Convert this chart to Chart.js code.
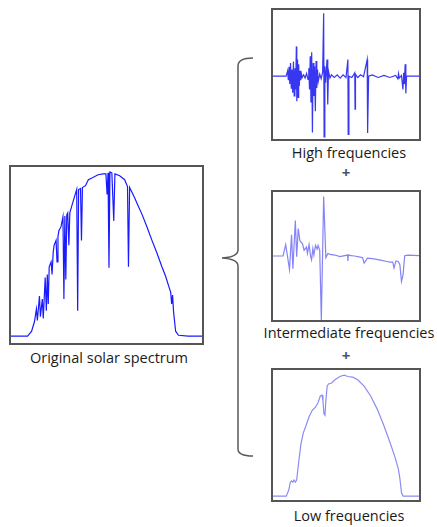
<!DOCTYPE html>
<html lang="en">
<head>
    <meta charset="UTF-8">
    <title>Solar spectrum decomposition</title>
    <script src="https://cdn.jsdelivr.net/npm/chart.js"></script>
    <style>
        body {
            margin: 0;
            width: 437px;
            height: 527px;
            background: #fff;
            position: relative;
            overflow: hidden;
            font-family: 'Open Sans', sans-serif;
        }

        .box {
            position: absolute;
            border: 2px solid #555;
            box-sizing: border-box;
            background: #fff;
        }

        .box canvas {
            display: block;
        }

        .label {
            position: absolute;
            font-size: 14.5px;
            line-height: 14.5px;
            color: #1a1a1a;
            white-space: nowrap;
            transform: translateX(-50%);
        }

        .plus {
            position: absolute;
            font-size: 15px;
            line-height: 15px;
            font-weight: bold;
            color: #44546a;
            transform: translateX(-50%);
        }

        #brace {
            position: absolute;
            left: 0;
            top: 0;
        }
    </style>
</head>
<body>
    <svg id="brace" width="437" height="527">
        <path d="M253,58 Q238,58 238,66 L238,250 Q238,257 222,258 Q238,259 238,266 L238,449 Q238,456 253,456"
              fill="none" stroke="#5a5a5a" stroke-width="1.5"/>
    </svg>

    <div class="box" style="left:9px; top:165px; width:195px; height:180px;"><canvas id="origChart"></canvas></div>
    <div class="box" style="left:271px; top:8px; width:150px; height:133px;"><canvas id="highChart"></canvas></div>
    <div class="box" style="left:271px; top:190px; width:150px; height:132px;"><canvas id="midChart"></canvas></div>
    <div class="box" style="left:271px; top:368px; width:150px; height:134px;"><canvas id="lowChart"></canvas></div>

    <div class="label" style="left:109px; top:351px;">Original solar spectrum</div>
    <div class="label" style="left:349px; top:146px;">High frequencies</div>
    <div class="plus" style="left:346px; top:165px;">+</div>
    <div class="label" style="left:349px; top:326px;">Intermediate frequencies</div>
    <div class="plus" style="left:346px; top:348px;">+</div>
    <div class="label" style="left:349px; top:509px;">Low frequencies</div>

    <script>
        // original spectrum (x: position across the band 0-100, y: intensity 0-100)
        const origX = [0, 8.7, 10.8, 12.3, 13.3, 13.8, 14.9, 15.4, 16.4, 16.9, 17.9, 18.5, 19, 19.5, 20, 21, 21.5, 22.1, 22.6,
            23.6, 24.1, 24.6, 25.1, 26.2, 27.2, 27.7, 28.2, 28.7, 29.2, 29.7, 30.3, 30.8, 31.8, 33.3, 34.4, 34.9, 35.4,
            36.4, 36.9, 37.4, 39, 40.5, 42.6, 45.6, 48.2, 49.7, 50.3, 50.8, 51.3, 51.8, 52.8, 53.8, 54.4, 56.9, 59.5,
            61, 61.5, 62.1, 64.6, 66.2, 68.7, 71.3, 73.8, 76.4, 79, 81, 82.6, 83.6, 84.1, 84.6, 85.1, 85.6, 86.2, 87.7,
            92.8, 100];
        const origY = [3.9, 3.9, 6.7, 12.2, 19.4, 12.8, 26.7, 15, 25, 13.9, 37.2, 18.3, 38.9, 22.2, 43.3, 46.1, 38.9, 51.7, 55.6,
            58.3, 46.1, 60.6, 63.9, 66.1, 71.7, 25, 72.2, 36.1, 72.8, 73.9, 55.6, 73.9, 77.8, 83.3, 87.2, 18.3, 87.2,
            87.8, 58.3, 88.3, 89.4, 92.8, 93.9, 95.6, 96.1, 96.1, 84.4, 96.7, 42.8, 97.2, 96.7, 69.4, 96.1, 95, 92.8,
            88.9, 43.3, 88.3, 82.8, 78.9, 72.8, 65.6, 58.3, 51.1, 43.3, 37.8, 32.2, 28.9, 22.2, 27.2, 17.8, 12.8, 6.7, 4.4,
            3.9, 3.9];

        // high frequency component
        const highX = [0, 9, 10, 10.5, 11, 11.5, 12, 12.5, 13, 13.5, 14, 14.5, 15, 15.5, 16, 16.3, 16.8, 17.2, 17.6, 18, 18.5,
            19, 19.5, 20, 21, 22, 23, 24, 24.5, 25, 25.5, 26, 26.5, 27, 27.5, 28, 28.5, 29, 29.5, 30, 30.5, 31, 32, 33,
            34, 34.7, 35, 35.5, 36, 37, 37.5, 38, 39, 40, 42, 44, 46, 48, 50, 51.3, 51.5, 52, 54, 56, 56.2, 56.5, 58,
            60, 62, 64.5, 64.8, 65.5, 68, 72, 76, 80, 84, 85.5, 86, 86.5, 88, 89, 89.5, 90, 90.5, 91, 91.5, 93, 100];
        const highY = [0, 0, 8, -6, 14, -12, 20, -18, 10, -25, 22, -30, 12, -20, 45, -38, 25, -32, 18, -15, 8,
            -6, 3, -2, 2, -3, 4, -5, 12, -20, 30, -40, 36, -85, 20, -30, 15, -53, 23, -18, 10, -8, 3, -4,
            6, 95, -92, 15, -10, 25, -43, 8, -3, 2, -2, 2, -3, 2, -2, 25, -88, 0, -2, 5, -50, 3, -2,
            2, -1, 25, -86, 0, 2, -2, 1, -2, 1, -4, 4, -3, 1, -20, 5, -12, 18, -26, 0, 0, 0];

        // intermediate frequency component
        const midX = [0, 6.9, 8.7, 11.3, 12.7, 13.6, 15.3, 16.2, 17.3, 18.4, 20.2, 21.3, 22.9, 23.6, 24.7, 25.8, 26.4, 27.3,
            28, 29.1, 30.2, 30.9, 32, 33.1, 34.7, 36.2, 37.6, 39.1, 42.4, 45.8, 51.1, 51.3, 51.6, 53.6, 55.8, 61.3, 62.4,
            64.7, 69.1, 73.6, 78, 80.2, 82, 82.9, 84.2, 85.8, 86.9, 88, 89.1, 90.2, 92.4, 100];
        const midY = [0, 0, 17.7, -21, 33, -20, 55.6, -1, 43, 24, 19, 9, 14, 4, 17.7, -1, -6, 11.6, 1.5, 16.7, 10.6,
            16.7, 9, -100, 93, -2.5, 4, 2.5, 1.5, -1, 1.5, -7.6, 1.5, 0.5, 0, -2.5, -11, -3.5, -4.5, -6.5, -8.6, -9.6,
            -9.6, -18.7, -7.6, -8.6, -13.6, -40, -29, 0.5, 1.5, 0.5];

        // low frequency component
        const lowX = [0, 9.1, 10.9, 11.8, 12.7, 13.6, 14.4, 15.3, 16.2, 17.6, 19.1, 20.7, 22.4, 24.7, 26.9, 29.1, 30.9, 32.4,
            33.6, 34.2, 34.9, 35.6, 36.2, 37.1, 38, 40.2, 42.4, 45.8, 48.7, 51.3, 54.7, 58, 62.4, 66.9, 71.3, 75.8,
            80.2, 83.6, 85.8, 86.9, 88, 89.1, 100];
        const lowY = [3, 3, 8, 13.7, 14.7, 13.7, 15.4, 13.7, 15.4, 29, 42.8, 51.5, 56.5, 64, 69, 71.4, 75, 80,
            80.6, 76.4, 66.4, 65.2, 76.4, 87.6, 89.3, 90, 92.5, 95, 96, 95, 94.5, 92.5, 87.6, 80, 70.1, 57.7,
            44, 32.8, 24.1, 16.7, 5.5, 3, 3];

        function toPoints(xs, ys) {
            return xs.map((x, i) => ({ x: x, y: ys[i] }));
        }

        function drawPanel(id, xs, ys, yMin, yMax, color, width) {
            const canvas = document.getElementById(id);
            const box = canvas.parentElement;
            canvas.width = box.clientWidth;
            canvas.height = box.clientHeight;
            return new Chart(canvas.getContext('2d'), {
                type: 'line',
                data: {
                    datasets: [{
                        data: toPoints(xs, ys),
                        borderColor: color,
                        borderWidth: width,
                        pointRadius: 0,
                        tension: 0,
                        fill: false
                    }]
                },
                options: {
                    responsive: false,
                    animation: false,
                    layout: { padding: 0 },
                    plugins: { legend: { display: false }, tooltip: { enabled: false } },
                    scales: {
                        x: { type: 'linear', min: 0, max: 100, display: false },
                        y: { min: yMin, max: yMax, display: false }
                    }
                }
            });
        }

        drawPanel('origChart', origX, origY, 0, 100, '#1a1aff', 1.2);
        drawPanel('highChart', highX, highY, -95, 100, 'rgba(20,20,240,0.85)', 1.2);
        drawPanel('midChart', midX, midY, -100, 100, 'rgba(110,110,245,0.85)', 1.2);
        drawPanel('lowChart', lowX, lowY, 0, 100, '#8c8cf2', 1.2);
    </script>
</body>
</html>
